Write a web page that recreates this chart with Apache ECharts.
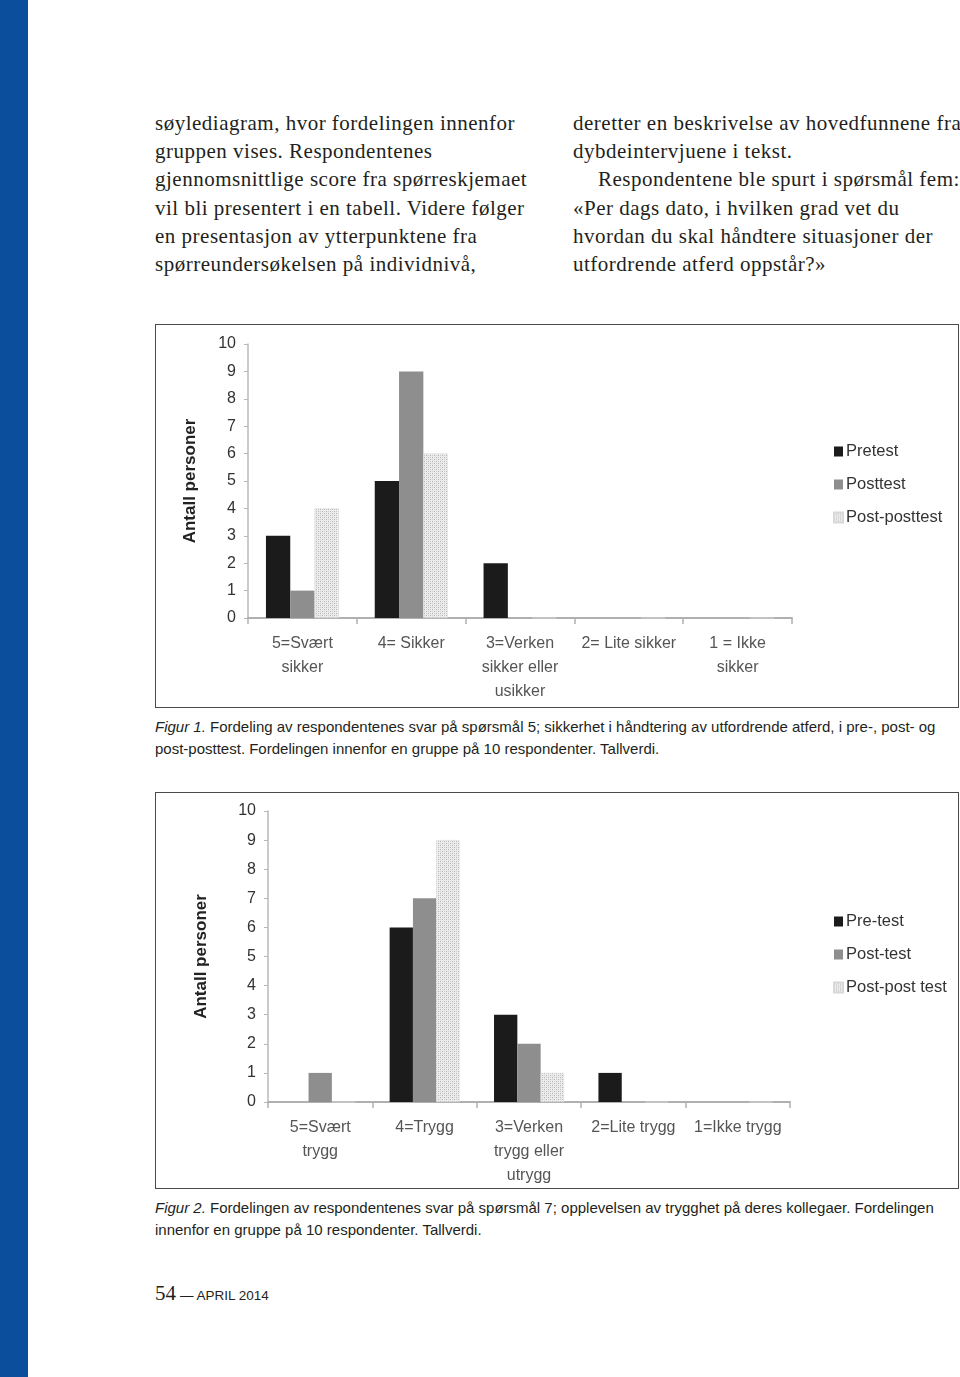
<!DOCTYPE html>
<html><head><meta charset="utf-8">
<script src="https://cdn.jsdelivr.net/npm/echarts@6/dist/echarts.min.js"></script>
<style>
html,body{margin:0;padding:0;background:#fff;}
body{width:960px;height:1377px;position:relative;overflow:hidden;}
#strip{position:absolute;left:0;top:0;width:28px;height:1377px;background:#0b4f9c;}
.para{position:absolute;font-family:"Liberation Serif","DejaVu Serif",serif;font-size:21px;line-height:28.2px;color:#231f20;white-space:nowrap;letter-spacing:0.5px;}
.box{position:absolute;border:1.5px solid #4a4a4a;box-sizing:border-box;background:#fff;}
.cap{position:absolute;font-family:"Liberation Sans",Arial,sans-serif;font-size:15px;line-height:21.6px;color:#231f20;white-space:nowrap;}
.foot{position:absolute;left:155px;top:1281px;white-space:nowrap;color:#231f20;}
</style></head>
<body>
<div id="strip"></div>
<div class="para" style="left:155px;top:109px;">søylediagram, hvor fordelingen innenfor<br>gruppen vises. Respondentenes<br>gjennomsnittlige score fra spørreskjemaet<br>vil bli presentert i en tabell. Videre følger<br>en presentasjon av ytterpunktene fra<br>spørreundersøkelsen på individnivå,</div>
<div class="para" style="left:573px;top:109px;">deretter en beskrivelse av hovedfunnene fra<br>dybdeintervjuene i tekst.<br><span style="padding-left:25px">Respondentene ble spurt i spørsmål fem:</span><br>«Per dags dato, i hvilken grad vet du<br>hvordan du skal håndtere situasjoner der<br>utfordrende atferd oppstår?»</div>

<div id="c1" class="box" style="left:155px;top:324px;width:804px;height:384px;"></div>
<div class="cap" style="left:155px;top:716px;"><i>Figur 1.</i> Fordeling av respondentenes svar på spørsmål 5; sikkerhet i håndtering av utfordrende atferd, i pre-, post- og<br>post-posttest. Fordelingen innenfor en gruppe på 10 respondenter. Tallverdi.</div>

<div id="c2" class="box" style="left:155px;top:792px;width:804px;height:397px;"></div>
<div class="cap" style="left:155px;top:1197px;"><i>Figur 2.</i> Fordelingen av respondentenes svar på spørsmål 7; opplevelsen av trygghet på deres kollegaer. Fordelingen<br>innenfor en gruppe på 10 respondenter. Tallverdi.</div>

<div class="foot"><span style="font-family:'Liberation Serif',serif;font-size:21px;">54</span> <span style="font-family:'Liberation Sans',sans-serif;font-size:13.5px;">— APRIL 2014</span></div>

<script>
// Figure 1 data
const cats1 = ['5=Svært\nsikker', '4= Sikker', '3=Verken\nsikker eller\nusikker', '2= Lite sikker', '1 = Ikke\nsikker'];
const names1 = ['Pretest', 'Posttest', 'Post-posttest'];
const pre1 = [3, 5, 2, 0, 0];
const post1 = [1, 9, 0, 0, 0];
const pp1 = [4, 6, 0, 0, 0];

// Figure 2 data
const cats2 = ['5=Svært\ntrygg', '4=Trygg', '3=Verken\ntrygg eller\nutrygg', '2=Lite trygg', '1=Ikke trygg'];
const names2 = ['Pre-test', 'Post-test', 'Post-post test'];
const pre2 = [0, 6, 3, 1, 0];
const post2 = [1, 7, 2, 0, 0];
const pp2 = [0, 9, 1, 0, 0];

const yName = 'Antall personer';

function makePattern() {
  const c = document.createElement('canvas');
  c.width = 4; c.height = 4;
  const g = c.getContext('2d');
  g.fillStyle = '#ececec'; g.fillRect(0, 0, 4, 4);
  g.fillStyle = '#b4b4b4';
  g.fillRect(0, 0, 1, 1); g.fillRect(2, 2, 1, 1);
  g.fillStyle = '#cfcfcf';
  g.fillRect(2, 0, 1, 1); g.fillRect(0, 2, 1, 1);
  return c;
}
const pattern = makePattern();
const narrow = '"Liberation Sans Narrow","Arial Narrow","Liberation Sans",sans-serif';

function build(el, cats, names, d1, d2, d3, grid, legendTop, nameGap) {
  const chart = echarts.init(document.getElementById(el), null, {renderer: 'canvas'});
  const colors = ['#1b1b1b', '#8e8e8e', {image: pattern, repeat: 'repeat'}];
  const datas = [d1, d2, d3];
  chart.setOption({
    animation: false,
    grid: grid,
    legend: {
      orient: 'vertical', left: 672, top: legendTop, itemGap: 16,
      itemWidth: 9, itemHeight: 10, icon: 'rect',
      textStyle: {fontFamily: narrow, fontSize: 16.5, color: '#333', padding: [0, 0, 0, -2]},
      data: names
    },
    xAxis: {
      type: 'category', data: cats,
      axisLine: {lineStyle: {color: '#b0b0b0', width: 2}},
      axisTick: {show: true, length: 6, lineStyle: {color: '#b0b0b0', width: 1.5}},
      axisLabel: {interval: 0, fontFamily: narrow, fontSize: 16, color: '#555', lineHeight: 24, margin: 14}
    },
    yAxis: {
      type: 'value', min: 0, max: 10, interval: 1,
      name: yName, nameLocation: 'middle', nameRotate: 90, nameGap: nameGap,
      nameTextStyle: {fontFamily: '"Liberation Sans",Arial,sans-serif', fontWeight: 'bold', fontSize: 17, color: '#222'},
      axisLine: {show: true, lineStyle: {color: '#b8b8b8', width: 1.5}},
      axisTick: {show: true, length: 4, lineStyle: {color: '#b8b8b8'}},
      splitLine: {show: false},
      axisLabel: {fontFamily: narrow, fontSize: 16, color: '#333', margin: 12}
    },
    series: names.map((n, i) => ({
      name: n, type: 'bar', data: datas[i],
      barGap: '0%', barCategoryGap: '33%',
      itemStyle: {color: colors[i], borderColor: i === 2 ? '#d8d8d8' : null, borderWidth: i === 2 ? 0.5 : 0}
    }))
  });
}

build('c1', cats1, names1, pre1, post1, pp1, {left: 92, right: 166, top: 19, bottom: 89}, 113, 49);
build('c2', cats2, names2, pre2, post2, pp2, {left: 112, right: 168, top: 18, bottom: 85}, 115, 58);
</script>
</body></html>
